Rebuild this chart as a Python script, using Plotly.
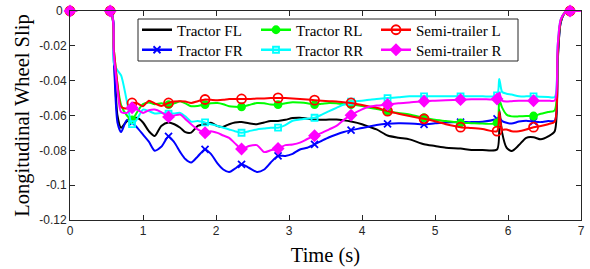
import plotly.graph_objects as go

# ---------------- data ----------------
time_s = [0, 0.55, 0.6, 0.65, 0.7, 0.78, 0.85, 0.92, 1.0, 1.08,
          1.16, 1.25, 1.35, 1.43, 1.51, 1.58, 1.66, 1.75, 1.85, 1.93,
          2.02, 2.1, 2.18, 2.26, 2.35, 2.45, 2.56, 2.66, 2.75, 2.85,
          2.95, 3.05, 3.15, 3.25, 3.35, 3.45, 3.55, 3.65, 3.75, 3.85,
          4.0, 4.1, 4.2, 4.35, 4.5, 4.65, 4.85, 5.0, 5.15, 5.35,
          5.5, 5.65, 5.85, 5.88, 5.92, 5.98, 6.05, 6.15, 6.25, 6.35,
          6.45, 6.55, 6.64, 6.68, 6.72, 6.78, 6.85, 7.0]

tractor_fl = [0, 0, -0.025, -0.06, -0.067, -0.0632, -0.062, -0.0613, -0.064, -0.069,
              -0.0718, -0.066, -0.064, -0.065, -0.067, -0.0695, -0.0698, -0.066, -0.065, -0.0642,
              -0.066, -0.0665, -0.065, -0.064, -0.0638, -0.0645, -0.065, -0.064, -0.0632, -0.0632,
              -0.0625, -0.0615, -0.0613, -0.0618, -0.0623, -0.0625, -0.0623, -0.0623, -0.0628, -0.0635,
              -0.065, -0.0665, -0.068, -0.0715, -0.0728, -0.0737, -0.0765, -0.0775, -0.0785, -0.079,
              -0.0798, -0.0798, -0.0795, -0.0566, -0.070, -0.0785, -0.0804, -0.077, -0.0728, -0.0725,
              -0.0737, -0.072, -0.069, -0.03, -0.007, -0.001, 0, 0]

tractor_fr = [0, 0, -0.028, -0.064, -0.0695, -0.0625, -0.064, -0.067, -0.071, -0.075,
              -0.0802, -0.078, -0.072, -0.0755, -0.081, -0.085, -0.087, -0.0835, -0.0795, -0.082,
              -0.0875, -0.091, -0.0925, -0.0905, -0.088, -0.090, -0.0924, -0.091, -0.087, -0.0832,
              -0.0832, -0.082, -0.0795, -0.0785, -0.0766, -0.0745, -0.0725, -0.0709, -0.0695, -0.0684,
              -0.0672, -0.0663, -0.0655, -0.0648, -0.0645, -0.0646, -0.0651, -0.0645, -0.064, -0.0638,
              -0.0638, -0.0636, -0.062, -0.0615, -0.0632, -0.0642, -0.0646, -0.0635, -0.063, -0.0635,
              -0.0638, -0.0632, -0.063, -0.028, -0.007, -0.001, 0, 0]

tractor_rl = [0, 0, -0.022, -0.042, -0.054, -0.06, -0.0625, -0.058, -0.0535, -0.0525,
              -0.0535, -0.053, -0.0537, -0.053, -0.0518, -0.053, -0.0547, -0.0545, -0.0537, -0.053,
              -0.0528, -0.0535, -0.0547, -0.055, -0.055, -0.054, -0.0528, -0.053, -0.0537, -0.0537,
              -0.053, -0.0524, -0.0526, -0.053, -0.0537, -0.0533, -0.0528, -0.053, -0.0535, -0.0537,
              -0.0545, -0.0556, -0.0563, -0.0575, -0.0585, -0.0594, -0.0613, -0.0625, -0.0632, -0.0642,
              -0.0644, -0.0646, -0.0642, -0.051, -0.0555, -0.0595, -0.0605, -0.0605, -0.0603, -0.0603,
              -0.059, -0.058, -0.057, -0.025, -0.006, -0.001, 0, 0]

tractor_rr = [0, 0, -0.03, -0.034, -0.037, -0.052, -0.065, -0.062, -0.0566, -0.0575,
              -0.0588, -0.0585, -0.059, -0.0588, -0.0585, -0.0605, -0.0635, -0.0632, -0.064, -0.065,
              -0.066, -0.067, -0.068, -0.069, -0.0699, -0.069, -0.068, -0.0675, -0.067, -0.067,
              -0.0655, -0.063, -0.0623, -0.0618, -0.0613, -0.0595, -0.0575, -0.0556, -0.0537, -0.052,
              -0.0515, -0.051, -0.0505, -0.050, -0.0495, -0.049, -0.049, -0.049, -0.049, -0.049,
              -0.049, -0.049, -0.0485, -0.039, -0.0465, -0.0475, -0.048, -0.049, -0.049, -0.049,
              -0.0493, -0.0494, -0.0494, -0.02, -0.005, -0.001, 0, 0]

semi_l = [0, 0, -0.022, -0.042, -0.055, -0.056, -0.0528, -0.053, -0.0547, -0.0515,
          -0.053, -0.0545, -0.0528, -0.052, -0.0518, -0.052, -0.0528, -0.0518, -0.0508, -0.051,
          -0.0512, -0.051, -0.0505, -0.0505, -0.0505, -0.0505, -0.0503, -0.0502, -0.050, -0.0499,
          -0.050, -0.0502, -0.0505, -0.0508, -0.0512, -0.0515, -0.0518, -0.052, -0.0524, -0.0528,
          -0.054, -0.0548, -0.0556, -0.0575, -0.059, -0.0603, -0.0619, -0.0633, -0.065, -0.0667,
          -0.0672, -0.0678, -0.069, -0.058, -0.068, -0.068, -0.069, -0.069, -0.068, -0.0667,
          -0.066, -0.065, -0.0635, -0.025, -0.006, -0.001, 0, 0]

semi_r = [0, 0, -0.025, -0.045, -0.058, -0.0585, -0.0556, -0.0566, -0.0585, -0.057,
          -0.0566, -0.058, -0.0608, -0.060, -0.0594, -0.062, -0.065, -0.068, -0.0699, -0.069,
          -0.070, -0.0715, -0.0728, -0.076, -0.0792, -0.0775, -0.077, -0.081, -0.080, -0.079,
          -0.077, -0.0766, -0.0756, -0.0735, -0.0716, -0.070, -0.068, -0.066, -0.0625, -0.0598,
          -0.0565, -0.055, -0.0543, -0.0537, -0.053, -0.0525, -0.0518, -0.0515, -0.0512, -0.0509,
          -0.0507, -0.0506, -0.0505, -0.047, -0.0515, -0.052, -0.0518, -0.0515, -0.0515, -0.0515,
          -0.0515, -0.0515, -0.0514, -0.02, -0.005, -0.001, 0, 0]

marker_times = [0, 0.55, 0.85, 1.35, 1.85, 2.35, 2.85, 3.35, 3.85, 4.35,
                4.85, 5.35, 5.85, 6.35, 6.85]

series_names = ["Tractor FL", "Tractor FR", "Tractor RL", "Tractor RR",
                "Semi-trailer L", "Semi-trailer R"]

x_tick_vals = [0, 1, 2, 3, 4, 5, 6, 7]
y_tick_vals = [0, -0.02, -0.04, -0.06, -0.08, -0.1, -0.12]
y_tick_text = ["0", "-0.02", "-0.04", "-0.06", "-0.08", "-0.1", "-0.12"]

x_title = "Time (s)"
y_title = "Longitudinal Wheel Slip"

# ---------------- styling ----------------
SERIF = "Liberation Serif, Times New Roman, Times, serif"
SANS = "Liberation Sans, Arial, Helvetica, sans-serif"
TICK_FONT = dict(family=SANS, size=12, color="#262626")

values = [tractor_fl, tractor_fr, tractor_rl, tractor_rr, semi_l, semi_r]
colors = ["#000000", "#0000FF", "#00FF00", "#00FFFF", "#FF0000", "#FF00FF"]
symbols = [None, "x-thin", "circle", "square-open", "circle-open", "diamond"]
msizes = [0, 7, 7, 6, 9, 8]

W, H = 590, 269
PL, PR, PT, PB = 70, 581, 11, 220  # plot-area bounds (px)

# legend slots in px: (legend left, row center)
legend_slots = [(137, 30), (137, 50), (256, 30), (256, 50), (376, 30), (376, 50)]


def px_to_paper_x(px):
    return (px - PL) / (PR - PL)


def px_to_paper_y(py):
    return (PB - py) / (PB - PT)


marker_idx = [i for i, t in enumerate(time_s) if t in marker_times]

fig = go.Figure()
legend_layouts = {}
for k, (name, vals, col, sym, ms) in enumerate(zip(series_names, values, colors, symbols, msizes)):
    fig.add_trace(go.Scatter(
        x=time_s, y=vals, mode="lines", name=name,
        line=dict(color=col, width=2, shape="spline", smoothing=0.7),
        showlegend=False, cliponaxis=False, hoverinfo="skip"))
    mk = None
    if sym is not None:
        mk = dict(symbol=sym, size=ms, color=col,
                  line=dict(color=col, width=1.8))
        fig.add_trace(go.Scatter(
            x=[time_s[i] for i in marker_idx], y=[vals[i] for i in marker_idx],
            mode="markers", marker=mk, showlegend=False, cliponaxis=False,
            hoverinfo="skip"))
    lname = "legend" if k == 0 else f"legend{k + 1}"
    fig.add_trace(go.Scatter(
        x=[None], y=[None], name=name,
        mode="lines+markers" if sym is not None else "lines",
        line=dict(color=col, width=2.5), marker=mk,
        showlegend=True, legend=lname))
    lx, ly = legend_slots[k]
    legend_layouts[lname] = dict(
        x=px_to_paper_x(lx), y=px_to_paper_y(ly), xanchor="left", yanchor="middle",
        bgcolor="rgba(0,0,0,0)", borderwidth=0,
        font=dict(family=SERIF, size=15, color="#000000"))

# the top tick label (at the very edge of the axis) is written as an annotation
# on the y scale so that it is not dropped by the renderer
axis_y_ticktext = [""] + y_tick_text[1:]
top_label = dict(x=0, xref="paper", y=y_tick_vals[0], yref="y", text=y_tick_text[0],
                 showarrow=False, xanchor="right", yanchor="middle", xshift=-5,
                 font=TICK_FONT)

fig.update_layout(
    width=W, height=H,
    margin=dict(l=PL, r=W - PR, t=PT, b=H - PB, autoexpand=False),
    paper_bgcolor="white", plot_bgcolor="white",
    **legend_layouts,
    annotations=[top_label],
    shapes=[dict(type="rect", xref="paper", yref="paper",
                 x0=px_to_paper_x(138), x1=px_to_paper_x(518),
                 y0=px_to_paper_y(61), y1=px_to_paper_y(19),
                 line=dict(color="#262626", width=1), fillcolor="white",
                 layer="below")],
)

axis_common = dict(
    showgrid=False, zeroline=False, showline=True, linecolor="#262626",
    linewidth=1, mirror="ticks", ticks="inside", ticklen=5, tickwidth=1,
    tickcolor="#262626", ticklabeloverflow="allow",
    tickfont=TICK_FONT,
)
fig.update_xaxes(range=[0, 7], tickvals=x_tick_vals, **axis_common,
                 title=dict(text=x_title, standoff=10,
                            font=dict(family=SERIF, size=20.5, color="#000000")))
fig.update_yaxes(range=[-0.12, 0], tickvals=y_tick_vals, ticktext=axis_y_ticktext,
                 **axis_common,
                 title=dict(text=y_title, standoff=4,
                            font=dict(family=SERIF, size=20.5, color="#000000")))

# remove the browser's default 8px body margin so the figure sits at the window origin
fig.write_html("out.html", config={"displayModeBar": False},
               post_script="document.body.style.margin='0';document.body.style.overflow='hidden';")
